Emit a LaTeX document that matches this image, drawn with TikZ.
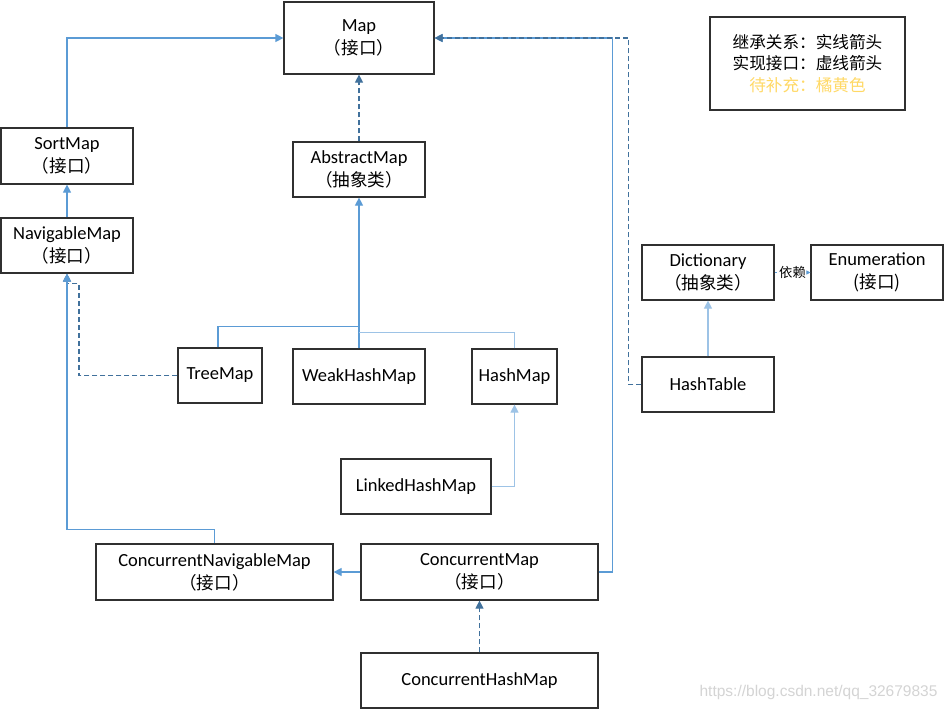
\documentclass[tikz,border=0pt]{standalone}
\usepackage{fontspec}
\setmainfont{Carlito}
\newfontfamily\cjk[Scale=0.95]{Noto Sans CJK SC}
\newfontfamily\wmfont{Liberation Sans}
\usetikzlibrary{arrows.meta,calc}
\definecolor{solidc}{HTML}{5B9BD5}
\definecolor{lightc}{HTML}{9DC3E6}
\definecolor{dashc}{HTML}{41719C}
\definecolor{boxc}{HTML}{303030}
\definecolor{orangey}{HTML}{FFD966}
\definecolor{wmgrey}{HTML}{D4D4D4}
\begin{document}
\begin{tikzpicture}[x=1pt,y=-1pt,
  box/.style={draw=boxc,line width=1.2pt,align=center,inner sep=0pt,fill=white,
    font=\fontsize{18.5}{23}\selectfont},
  sz/.style 2 args={minimum width=#1pt,minimum height=#2pt},
  inh/.style={draw=solidc,line width=1.2pt,-{Triangle[length=8pt,width=8pt]},fill=none},
  inhl/.style={draw=lightc,line width=1.2pt,-{Triangle[length=8pt,width=8pt]}},
  impl/.style={draw=dashc,line width=1.2pt,dash pattern=on 5pt off 3pt,-{Triangle[length=8pt,width=8pt]}},
  plain/.style={draw=solidc,line width=1.2pt},
  plainl/.style={draw=lightc,line width=1.2pt},
  dep/.style={draw=solidc,line width=1pt,dash pattern=on 2pt off 2pt,-{Triangle[length=4pt,width=4pt]}}
]
\useasboundingbox (0,0) rectangle (945,710);
\fill[white] (0,0) rectangle (945,710);

% nodes
\node[box,sz={150}{72}] (Map) at (359,38) {Map\\{\cjk （接口）}};
\node[box,sz={132}{56}] (Sort) at (67,156) {SortMap\\{\cjk （接口）}};
\node[box,sz={132}{55}] (Nav) at (67,245.5) {NavigableMap\\{\cjk （接口）}};
\node[box,sz={132}{55}] (Abs) at (359,169.5) {AbstractMap\\{\cjk （抽象类）}};
\node[box,sz={84}{55}] (Tree) at (220,375.5) {TreeMap};
\node[box,sz={132}{55}] (Weak) at (359,376.5) {WeakHashMap};
\node[box,sz={85}{55}] (Hash) at (514.5,376.5) {HashMap};
\node[box,sz={150}{55}] (Linked) at (416,486.5) {LinkedHashMap};
\node[box,sz={132}{55}] (Dict) at (708,272.5) {Dictionary\\{\cjk （抽象类）}};
\node[box,sz={132}{55}] (Enum) at (877,272.5) {Enumeration\\{\cjk (接口)}};
\node[box,sz={132}{55}] (HT) at (708,384.5) {HashTable};
\node[box,sz={237}{56}] (CNM) at (214.5,572) {ConcurrentNavigableMap\\{\cjk （接口）}};
\node[box,sz={237}{56}] (CM) at (479.5,572) {ConcurrentMap\\{\cjk （接口）}};
\node[box,sz={237}{55}] (CHM) at (479.5,680.5) {ConcurrentHashMap};
\node[box,sz={195}{93},font=\cjk\fontsize{17.5}{21.5}\selectfont] (Legend) at (807.5,63.5)
  {继承关系：实线箭头\\实现接口：虚线箭头\\\textcolor{orangey}{待补充：橘黄色}};

% connectors
\draw[inh] (Sort.north) |- (Map.west);
\draw[impl] (Abs.north) -- (Map.south);
\draw[inh] (Nav.north) -- (Sort.south);
\draw[inh] (Weak.north) -- (Abs.south);
\coordinate (j1) at ($(Weak.north)+(0,-22)$);
\coordinate (j2) at ($(Weak.north)+(0,-16)$);
\draw[plain] ($(Tree.north)+(-2,0)$) |- (j1);
\draw[plainl] (Hash.north) |- (j2);
\draw[impl] (Tree.west) -| ($(Nav.south)+(12,10)$) -- ($(Nav.south)+(0,10)$) -- (Nav.south);
\draw[inh] (CNM.north) -- ++(0,-14) -| (Nav.south);
\draw[inh] (CM.west) -- (CNM.east);
\draw[inh] (CM.east) -| ($(Map.east)+(178,0)$) -- (Map.east);
\draw[impl] (HT.west) -| ($(Map.east)+(194,0)$) -- (Map.east);
\draw[impl] (CHM.north) -- (CM.south);
\draw[inhl] (Linked.east) -| (Hash.south);
\draw[inhl] (HT.north) -- (Dict.south);
\draw[dep] (Dict.east) -- node[fill=white,inner sep=0.5pt,font=\cjk\fontsize{14}{14}\selectfont,text=black] (depl) {依赖} (Enum.west);

\node[text=wmgrey,font=\wmfont\fontsize{15.5}{15.5}\selectfont,anchor=east] (wm) at (941,692) {https://blog.csdn.net/qq\_32679835};
\end{tikzpicture}
\end{document}
